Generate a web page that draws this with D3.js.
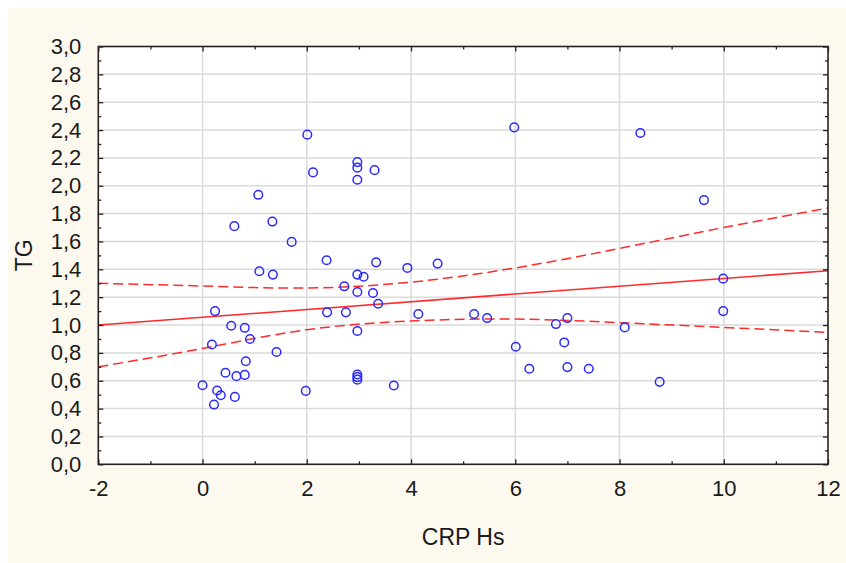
<!DOCTYPE html>
<html>
<head>
<meta charset="utf-8">
<script src="https://cdn.jsdelivr.net/npm/d3@7"></script>
<style>
  html, body { margin: 0; padding: 0; background: #ffffff; }
  svg { display: block; }
  text { font-family: "Liberation Sans", Arial, sans-serif; fill: #1a1a1a; }
</style>
</head>
<body>
<svg id="chart" width="846" height="563"></svg>
<script>
// ---- Data ----
const crpHs = [0.24,0.55,0.81,0.91,0.18,1.42,0.83,0.44,0.65,0.81,0.00,0.28,0.35,0.62,0.22,1.98,
  2.01,2.12,1.07,1.34,0.61,1.71,2.38,1.09,1.35,2.97,2.97,3.30,2.97,3.33,3.93,4.51,2.97,3.09,
  2.72,2.97,3.27,3.37,2.39,2.75,4.14,5.21,5.46,2.97,2.97,2.97,2.97,3.67,5.98,8.40,9.62,9.99,
  7.00,6.78,8.10,9.99,6.01,6.94,6.27,7.00,7.41,8.77];
const tg = [1.10,0.995,0.98,0.90,0.86,0.806,0.74,0.657,0.633,0.642,0.568,0.53,0.496,0.484,0.429,0.527,
  2.367,2.096,1.935,1.743,1.71,1.597,1.465,1.386,1.362,2.17,2.13,2.112,2.043,1.45,1.41,1.441,1.362,1.347,
  1.278,1.237,1.23,1.153,1.091,1.091,1.079,1.079,1.05,0.957,0.645,0.626,0.608,0.566,2.419,2.379,1.897,1.333,
  1.05,1.007,0.983,1.10,0.844,0.875,0.686,0.698,0.686,0.592];

const fitX = [-2, 12];
const fitY = [1.00, 1.39];

const bandX = [-2, 0, 2, 4, 6, 8, 10, 12];
const bandUpper = [1.30, 1.28, 1.266, 1.308, 1.41, 1.55, 1.70, 1.84];
const bandLower = [0.70, 0.832, 0.966, 1.029, 1.043, 1.017, 0.983, 0.947];

const xTicks = [-2, 0, 2, 4, 6, 8, 10, 12];
const xMinorTicks = [-1, 1, 3, 5, 7, 9, 11];
const yTicks = [0, 0.2, 0.4, 0.6, 0.8, 1.0, 1.2, 1.4, 1.6, 1.8, 2.0, 2.2, 2.4, 2.6, 2.8, 3.0];
const yMinorTicks = [0.1, 0.3, 0.5, 0.7, 0.9, 1.1, 1.3, 1.5, 1.7, 1.9, 2.1, 2.3, 2.5, 2.7, 2.9];

const xTitle = "CRP Hs";
const yTitle = "TG";

// ---- Layout ----
const svg = d3.select("#chart");
const L = 98.3, R = 828, T = 46.5, B = 464.3;

const x = d3.scaleLinear().domain([-2, 12]).range([L, R]);
const y = d3.scaleLinear().domain([0, 3]).range([B, T]);

const locale = d3.formatLocale({decimal: ",", thousands: " ", grouping: [3], currency: ["", ""], minus: "-"});
const fy = locale.format(".1f");
const fx = locale.format("d");

// background
svg.append("rect").attr("x", 8).attr("y", 8).attr("width", 846 - 8).attr("height", 563 - 8).attr("fill", "#fef9ee");
svg.append("rect").attr("x", L).attr("y", T).attr("width", R - L).attr("height", B - T).attr("fill", "#ffffff");

// grid
const grid = svg.append("g").attr("stroke", "#dadada").attr("stroke-width", 1.5);
grid.selectAll("line.gx").data(xTicks.slice(1, -1)).join("line")
  .attr("x1", d => x(d)).attr("x2", d => x(d)).attr("y1", T).attr("y2", B);
grid.selectAll("line.gy").data(yTicks.slice(1, -1)).join("line")
  .attr("class", "gy")
  .attr("y1", d => y(d)).attr("y2", d => y(d)).attr("x1", L).attr("x2", R);

// clip for plot content
svg.append("clipPath").attr("id", "clip").append("rect")
  .attr("x", L).attr("y", T).attr("width", R - L).attr("height", B - T);
const plot = svg.append("g").attr("clip-path", "url(#clip)");

// confidence bands
const bandLine = (vals) => d3.line().curve(d3.curveNatural)
  .x((d, i) => x(bandX[i])).y(d => y(d))(vals);
plot.append("path").attr("d", bandLine(bandUpper)).attr("fill", "none")
  .attr("stroke", "#ff2a2a").attr("stroke-width", 1.5).attr("stroke-dasharray", "10,5");
plot.append("path").attr("d", bandLine(bandLower)).attr("fill", "none")
  .attr("stroke", "#ff2a2a").attr("stroke-width", 1.5).attr("stroke-dasharray", "10,5");

// fit line
plot.append("path").attr("d", d3.line().x((d, i) => x(fitX[i])).y(d => y(d))(fitY))
  .attr("fill", "none").attr("stroke", "#ff2a2a").attr("stroke-width", 1.6);

// points
plot.selectAll("circle").data(crpHs).join("circle")
  .attr("cx", d => x(d)).attr("cy", (d, i) => y(tg[i])).attr("r", 4.3)
  .attr("fill", "none").attr("stroke", "#2a2aff").attr("stroke-width", 1.5);

// axes with inward ticks on all four sides
function addAxis(gen, transform) {
  const g = svg.append("g").attr("transform", transform).call(gen);
  g.select(".domain").remove();
  g.selectAll(".tick line").attr("stroke", "#222").attr("stroke-width", 1.3);
  return g;
}
// bottom
const xb = addAxis(d3.axisBottom(x).tickValues(xTicks).tickSize(-5).tickFormat(fx).tickPadding(16), `translate(0,${B})`);
xb.selectAll(".tick text").attr("font-size", 22).attr("fill", "#1a1a1a");
addAxis(d3.axisBottom(x).tickValues(xMinorTicks).tickSize(-3).tickFormat(""), `translate(0,${B})`);
// top
addAxis(d3.axisTop(x).tickValues(xTicks).tickSize(-5).tickFormat(""), `translate(0,${T})`);
addAxis(d3.axisTop(x).tickValues(xMinorTicks).tickSize(-3).tickFormat(""), `translate(0,${T})`);
// left
const yl = addAxis(d3.axisLeft(y).tickValues(yTicks).tickSize(-5).tickFormat(fy).tickPadding(17), `translate(${L},0)`);
yl.selectAll(".tick text").attr("font-size", 22).attr("fill", "#1a1a1a");
addAxis(d3.axisLeft(y).tickValues(yMinorTicks).tickSize(-3).tickFormat(""), `translate(${L},0)`);
// right
addAxis(d3.axisRight(y).tickValues(yTicks).tickSize(-5).tickFormat(""), `translate(${R},0)`);
addAxis(d3.axisRight(y).tickValues(yMinorTicks).tickSize(-3).tickFormat(""), `translate(${R},0)`);

svg.selectAll(".tick text").style("font-family", '"Liberation Sans", Arial, sans-serif');

// frame
svg.append("rect").attr("x", L).attr("y", T).attr("width", R - L).attr("height", B - T)
  .attr("fill", "none").attr("stroke", "#222").attr("stroke-width", 1.6);

// titles
svg.append("text").attr("x", (L + R) / 2).attr("y", 545).attr("text-anchor", "middle")
  .attr("font-size", 23).text(xTitle);
svg.append("text").attr("transform", `translate(32,${(T + B) / 2}) rotate(-90)`)
  .attr("text-anchor", "middle").attr("font-size", 23).text(yTitle);
</script>
</body>
</html>
